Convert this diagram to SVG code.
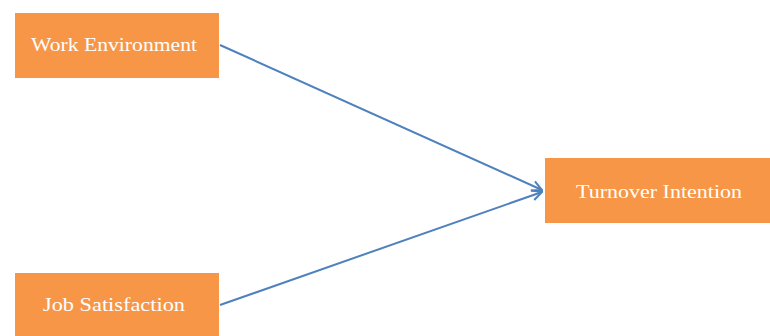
<svg xmlns="http://www.w3.org/2000/svg" width="770" height="336" viewBox="0 0 770 336">
<style>
.box{fill:#F79646;}
.lbl{font-family:"Liberation Serif",serif;font-size:18px;fill:#FFFFFF;text-anchor:middle;dominant-baseline:central;}
.con{stroke:#4F81BD;stroke-width:2;fill:none;}
</style>
<defs>
<marker id="arr" viewBox="0 0 12 12" refX="11" refY="6" markerWidth="12" markerHeight="12" markerUnits="userSpaceOnUse" orient="auto">
<path d="M1,1 L11,6 L1,11" fill="none" stroke="#4F81BD" stroke-width="2"/>
</marker>
</defs>
<rect width="770" height="336" fill="#FFFFFF"/>
<g id="connectors">
<line class="con" x1="220" y1="45" x2="542" y2="190" marker-end="url(#arr)"/>
<line class="con" x1="220" y1="305" x2="542" y2="192" marker-end="url(#arr)"/>
</g>
<g id="work-environment">
<rect class="box" x="15" y="13" width="204" height="65"/>
<text class="lbl" x="114" y="45" textLength="166" lengthAdjust="spacingAndGlyphs">Work Environment</text>
</g>
<g id="job-satisfaction">
<rect class="box" x="15" y="273" width="204" height="63"/>
<text class="lbl" x="114" y="305" textLength="142" lengthAdjust="spacingAndGlyphs">Job Satisfaction</text>
</g>
<g id="turnover-intention">
<rect class="box" x="545" y="158" width="225" height="65"/>
<text class="lbl" x="659" y="192" textLength="166" lengthAdjust="spacingAndGlyphs">Turnover Intention</text>
</g>
</svg>
